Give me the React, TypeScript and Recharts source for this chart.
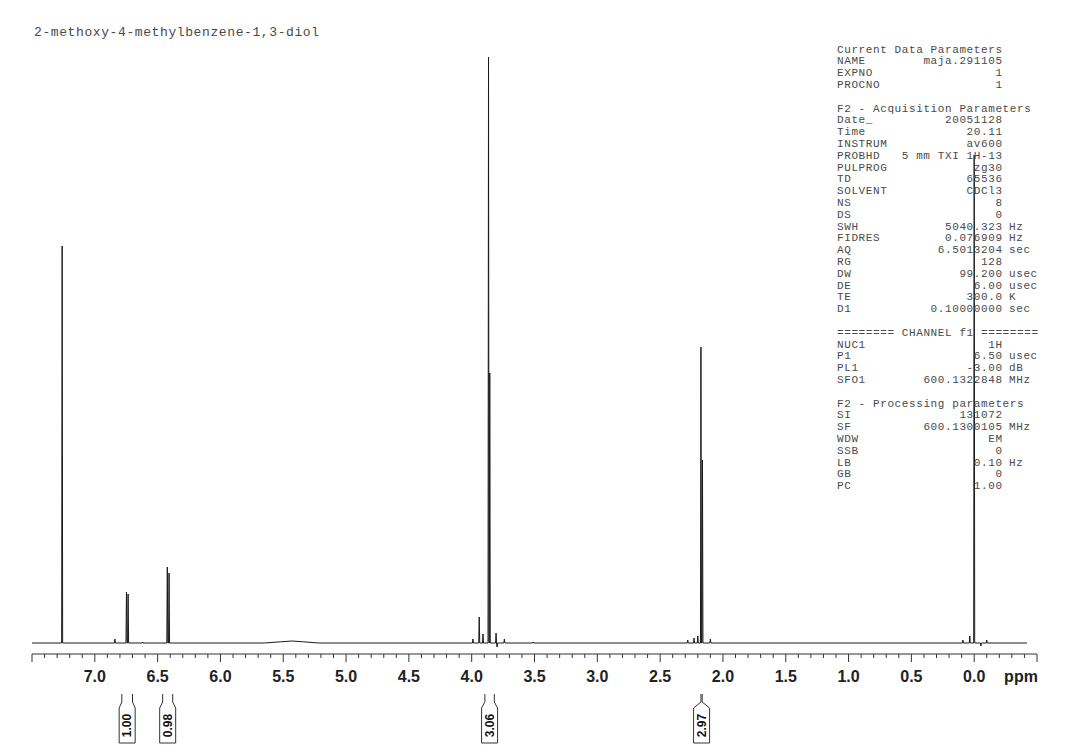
import { LineChart, Line, XAxis, YAxis, ReferenceArea } from "recharts";

// 1H spectrum: intensity in "px above baseline" units
const peakPpm = [7.26, 6.84, 6.748, 6.735, 6.62, 6.423, 6.409, 3.99, 3.94, 3.91, 3.866, 3.856, 3.806, 3.798, 3.74, 3.51, 2.28, 2.23, 2.2, 2.175, 2.163, 2.1, 0.09, 0.035, 0.0, -0.053, -0.1];
const peakHeight = [397, 4, 51, 49, 1, 76, 70, 4, 26, 9, 586, 270, 10, -4, 4, 1, 3, 5, 7, 296, 183, 4, 3, 7, 488, -3, 3];

// broad OH hump
const humpPpm = [5.65, 5.52, 5.43, 5.34, 5.22];
const humpHeight = [0, 1.2, 2, 1.2, 0];

const specStart = 7.5;
const specEnd = -0.42;

// integrals
const integralLabel = ["1.00", "0.98", "3.06", "2.97"];
const integralFrom = [6.785, 6.46, 3.895, 2.175];
const integralTo = [6.7, 6.38, 3.82, 2.165];

// axis
const majorTicks = [7.0, 6.5, 6.0, 5.5, 5.0, 4.5, 4.0, 3.5, 3.0, 2.5, 2.0, 1.5, 1.0, 0.5, 0.0];
const majorLabels = ["7.0", "6.5", "6.0", "5.5", "5.0", "4.5", "4.0", "3.5", "3.0", "2.5", "2.0", "1.5", "1.0", "0.5", "0.0"];

const title = "2-methoxy-4-methylbenzene-1,3-diol";

// [label, value, unit]; a single entry is a heading, empty is a blank line
const paramRows: string[][] = [
  ["Current Data Parameters"],
  ["NAME", "maja.291105"],
  ["EXPNO", "1"],
  ["PROCNO", "1"],
  [],
  ["F2 - Acquisition Parameters"],
  ["Date_", "20051128"],
  ["Time", "20.11"],
  ["INSTRUM", "av600"],
  ["PROBHD", "5 mm TXI 1H-13"],
  ["PULPROG", "zg30"],
  ["TD", "65536"],
  ["SOLVENT", "CDCl3"],
  ["NS", "8"],
  ["DS", "0"],
  ["SWH", "5040.323", "Hz"],
  ["FIDRES", "0.076909", "Hz"],
  ["AQ", "6.5013204", "sec"],
  ["RG", "128"],
  ["DW", "99.200", "usec"],
  ["DE", "6.00", "usec"],
  ["TE", "300.0", "K"],
  ["D1", "0.10000000", "sec"],
  [],
  ["======== CHANNEL f1 ========"],
  ["NUC1", "1H"],
  ["P1", "6.50", "usec"],
  ["PL1", "-3.00", "dB"],
  ["SFO1", "600.1322848", "MHz"],
  [],
  ["F2 - Processing parameters"],
  ["SI", "131072"],
  ["SF", "600.1300105", "MHz"],
  ["WDW", "EM"],
  ["SSB", "0"],
  ["LB", "0.10", "Hz"],
  ["GB", "0"],
  ["PC", "1.00"],
];

const PEAK_HALF = 0.004;
const W = 1068;
const H = 756;
const MONO = "'Liberation Mono', 'DejaVu Sans Mono', monospace";
const SANS = "'Liberation Sans', Arial, sans-serif";
const TEXT_GREY = "#4a4a4a";

function buildSpectrum() {
  const pts: { ppm: number; y: number }[] = [
    { ppm: specStart, y: 0 },
    { ppm: specEnd, y: 0 },
  ];
  peakPpm.forEach((p, i) => {
    pts.push({ ppm: p + PEAK_HALF, y: 0 }, { ppm: p, y: peakHeight[i] }, { ppm: p - PEAK_HALF, y: 0 });
  });
  humpPpm.forEach((p, i) => pts.push({ ppm: p, y: humpHeight[i] }));
  return pts.sort((a, b) => b.ppm - a.ppm);
}

const spectrum = buildSpectrum();

const allTicks: number[] = [];
for (let i = 75; i >= -5; i--) allTicks.push(i / 10);

function PpmTick(props: any) {
  const { x, y, payload } = props;
  const v = payload.value as number;
  const tenth = Math.round(v * 10);
  const major = tenth % 5 === 0;
  const idx = majorTicks.findIndex((m) => Math.round(m * 10) === tenth);
  return (
    <g>
      <line x1={x} y1={y} x2={x} y2={y + (major ? 8 : 4)} stroke="#333" strokeWidth={1} />
      {idx >= 0 && (
        <text x={x} y={y + 28} textAnchor="middle" fontFamily={SANS} fontWeight="bold" fontSize={16} fill="#222">
          {majorLabels[idx]}
        </text>
      )}
    </g>
  );
}

function integralShape(label: string) {
  return (p: any) => {
    const left = Math.min(p.x, p.x + p.width);
    const right = Math.max(p.x, p.x + p.width);
    const top = Math.min(p.y, p.y + p.height);
    const bottom = Math.max(p.y, p.y + p.height);
    const xc = (left + right) / 2;
    const d = `M${left},${top} V${top + 8} L${xc - 8},${top + 14} V${bottom} H${xc + 8} V${top + 14} L${right},${top + 8} V${top}`;
    const ty = (top + 14 + bottom) / 2;
    return (
      <g>
        <path d={d} fill="none" stroke="#333" strokeWidth={1} />
        <text
          x={xc}
          y={ty}
          transform={`rotate(-90 ${xc} ${ty})`}
          textAnchor="middle"
          dominantBaseline="central"
          fontFamily={SANS}
          fontWeight="bold"
          fontSize={12}
          fill="#111"
        >
          {label}
        </text>
      </g>
    );
  };
}

export default function App() {
  const rowY = (n: number) => 48.5 + 11.8 * n + 4;
  const paramText = { fontFamily: MONO, fontSize: 11, letterSpacing: 0.6, fill: TEXT_GREY };
  return (
    <div style={{ position: "absolute", left: 0, top: 0, width: W, height: H, background: "#fff" }}>
      <LineChart
        width={W}
        height={H}
        data={spectrum}
        margin={{ top: 57, right: 31, left: 32, bottom: 72 }}
      >
        <XAxis
          dataKey="ppm"
          type="number"
          domain={[-0.5, 7.5]}
          reversed
          allowDataOverflow
          ticks={allTicks}
          interval={0}
          tick={<PpmTick />}
          tickLine={false}
          tickSize={0}
          tickMargin={0}
          height={30}
          axisLine={{ stroke: "#333" }}
        />
        <YAxis type="number" domain={[-11, 586]} hide allowDataOverflow />
        <Line
          type="linear"
          dataKey="y"
          stroke="#1a1a1a"
          strokeWidth={1}
          dot={false}
          isAnimationActive={false}
        />
        {integralLabel.map((lab, i) => (
          <ReferenceArea
            key={lab}
            x1={integralFrom[i]}
            x2={integralTo[i]}
            y1={-51}
            y2={-100}
            ifOverflow="visible"
            shape={integralShape(lab)}
          />
        ))}
      </LineChart>
      <svg
        width={W}
        height={H}
        style={{ position: "absolute", left: 0, top: 0, pointerEvents: "none" }}
      >
        <text x={34} y={36} fontFamily={MONO} fontSize={13} letterSpacing={0.6} fill={TEXT_GREY}>
          {title}
        </text>
        {paramRows.map((row, n) => {
          if (row.length === 0) return null;
          if (row.length === 1)
            return (
              <text key={n} x={837} y={rowY(n)} {...paramText} xmlSpace="preserve">
                {row[0]}
              </text>
            );
          return (
            <g key={n}>
              <text x={837} y={rowY(n)} {...paramText}>
                {row[0]}
              </text>
              <text x={1002.6} y={rowY(n)} textAnchor="end" {...paramText} xmlSpace="preserve">
                {row[1]}
              </text>
              {row[2] && (
                <text x={1009} y={rowY(n)} {...paramText}>
                  {row[2]}
                </text>
              )}
            </g>
          );
        })}
        <text x={1021} y={682} textAnchor="middle" fontFamily={SANS} fontWeight="bold" fontSize={16} fill="#222">
          ppm
        </text>
      </svg>
    </div>
  );
}
